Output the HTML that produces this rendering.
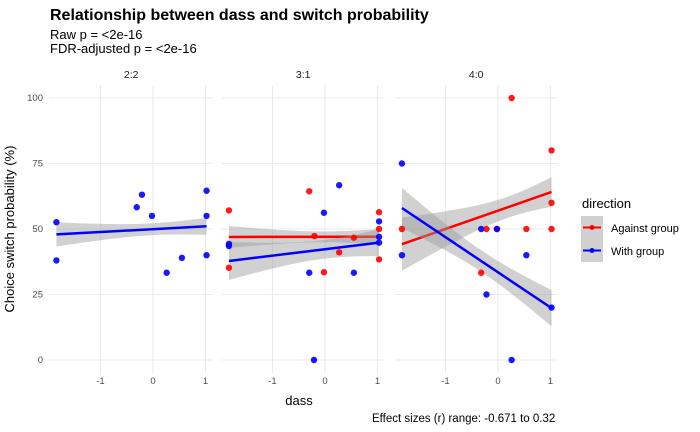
<!DOCTYPE html>
<html><head><meta charset="utf-8"><style>
body{margin:0;background:#fff;}
svg{display:block;font-family:"Liberation Sans",Arial,sans-serif;}
</style></head><body>
<svg id="chart" width="700" height="432" viewBox="0 0 700 432">
<text x="50" y="20" font-size="16" font-weight="bold" fill="#000">Relationship between dass and switch probability</text>
<text x="50" y="39" font-size="13" fill="#000">Raw p = &lt;2e-16</text>
<text x="50" y="53" font-size="13" fill="#000">FDR-adjusted p = &lt;2e-16</text>
<text x="14" y="229" font-size="13" fill="#000" text-anchor="middle" transform="rotate(-90 14 229)">Choice switch probability (%)</text>
<text x="299" y="405" font-size="13" fill="#000" text-anchor="middle">dass</text>
<text x="372" y="422" font-size="11.5" fill="#000" text-anchor="start">Effect sizes (r) range: -0.671 to 0.32</text>
<g id="panels"></g>
<g>
<text x="582" y="208" font-size="13" fill="#000">direction</text>
<g>
<rect x="581" y="216" width="22" height="23" fill="#d0d0d0"/>
<line x1="583" y1="227.5" x2="601" y2="227.5" stroke="#ff0000" stroke-width="2"/>
<circle cx="592" cy="227.5" r="2.5" fill="#ff0000"/>
<text x="611" y="232" font-size="11" fill="#000">Against group</text></g>
<g>
<rect x="581" y="239" width="22" height="23" fill="#d0d0d0"/>
<line x1="583" y1="250.5" x2="601" y2="250.5" stroke="#0000ff" stroke-width="2"/>
<circle cx="592" cy="250.5" r="2.5" fill="#0000ff"/>
<text x="611" y="255" font-size="11" fill="#000">With group</text></g>
</g>
</svg>
<script>
const panelNames = ["2:2","3:1","4:0"];
const xTicks = [-1,0,1];
const yTicks = [0,25,50,75,100];
// red = against group, blue = with group
const p1BlueX = [-1.84,-1.84,-0.31,-0.21,-0.02,0.26,0.55,1.02,1.02,1.02];
const p1BlueY = [52.6,38,58.3,63.1,55,33.3,39,64.6,55,40];
const p2RedX = [-1.83,-1.83,-0.30,-0.20,-0.02,0.27,0.55,1.03,1.03,1.03];
const p2RedY = [57.1,35.2,64.4,47.3,33.5,41.1,46.7,56.4,50,38.4];
const p2BlueX = [-1.83,-1.83,-0.30,-0.21,-0.02,0.27,0.55,1.03,1.03,1.03];
const p2BlueY = [44.3,43.5,33.3,0,56.2,66.7,33.3,52.9,47,44.8];
const p3RedX = [-1.83,-0.32,-0.22,-0.02,0.26,0.54,1.02,1.02,1.02];
const p3RedY = [50,33.3,50,50,100,50,80,60,50];
const p3BlueX = [-1.83,-1.83,-0.32,-0.22,-0.02,0.26,0.54,1.02];
const p3BlueY = [75,40,50,25,50,0,40,20];

const panelData = [
  {red:null, blue:[p1BlueX,p1BlueY]},
  {red:[p2RedX,p2RedY], blue:[p2BlueX,p2BlueY]},
  {red:[p3RedX,p3RedY], blue:[p3BlueX,p3BlueY]}
];
const NS="http://www.w3.org/2000/svg";
const g=document.getElementById('panels');
const pxPerUnit=52.5, zeroX=[153,325,498], xMin=-1.97, xMax=1.14;
const bandMult=0.6;
const yS=v=>360-v*2.62;
function mk(tag,attrs,parent){const e=document.createElementNS(NS,tag);for(const k in attrs)e.setAttribute(k,attrs[k]);parent.appendChild(e);return e;}
function fit(xs,ys){const n=xs.length;const mx=xs.reduce((a,b)=>a+b)/n,my=ys.reduce((a,b)=>a+b)/n;let sxx=0,sxy=0;for(let i=0;i<n;i++){sxx+=(xs[i]-mx)**2;sxy+=(xs[i]-mx)*(ys[i]-my);}const b=sxy/sxx,a=my-b*mx;let sse=0;for(let i=0;i<n;i++)sse+=(ys[i]-a-b*xs[i])**2;const s=Math.sqrt(sse/(n-2));return {a,b,mx,sxx,s,n};}
panelData.forEach((pd,pi)=>{
  const xS=v=>zeroX[pi]+v*pxPerUnit;
  const L=xS(xMin),R=xS(xMax);
  const pg=mk('g',{},g);
  
  
  yTicks.forEach(v=>{const l=mk('line',{x1:L,x2:R,y1:yS(v),y2:yS(v),stroke:'#ebebeb','stroke-width':1.1},pg);});
  xTicks.forEach(v=>{const l=mk('line',{x1:xS(v),x2:xS(v),y1:85,y2:373,stroke:'#ebebeb','stroke-width':1.1},pg);
    const t=mk('text',{x:xS(v),y:384,'font-size':9.5,fill:'#4d4d4d','text-anchor':'middle'},pg);t.textContent=v;});
  const st=mk('text',{x:(L+R)/2,y:78,'font-size':10.5,fill:'#1a1a1a','text-anchor':'middle'},pg);st.textContent=panelNames[pi];
  
  if(pi===0){yTicks.forEach(v=>{const t=mk('text',{x:43,y:yS(v)+3,'font-size':9.5,fill:'#4d4d4d','text-anchor':'end'},pg);t.textContent=v;});}
  const series=[['red',pd.red,'#ff0000'],['blue',pd.blue,'#0000ff']].filter(s=>s[1]);
  series.forEach(([nm,d,col])=>{
    const f=fit(d[0],d[1]);const x0=Math.min(...d[0]),x1=Math.max(...d[0]);
    const up=[],lo=[];
    for(let k=0;k<=40;k++){const x=x0+(x1-x0)*k/40;const y=f.a+f.b*x;const se=f.s*Math.sqrt(1/f.n+(x-f.mx)**2/f.sxx);up.push(xS(x)+','+yS(y+bandMult*se));lo.unshift(xS(x)+','+yS(y-bandMult*se));}
    const band=mk('polygon',{points:up.concat(lo).join(' '),fill:'#999','fill-opacity':0.45},pg);
    
    const ln=mk('line',{x1:xS(x0),y1:yS(f.a+f.b*x0),x2:xS(x1),y2:yS(f.a+f.b*x1),stroke:col,'stroke-width':2.5},pg);
    
  });
  series.forEach(([nm,d,col])=>{
    d[0].forEach((x,i)=>{const c=mk('circle',{cx:xS(x),cy:yS(d[1][i]),r:3.2,fill:col,'fill-opacity':0.9},pg);
      });
  });
});
</script>
</body></html>
